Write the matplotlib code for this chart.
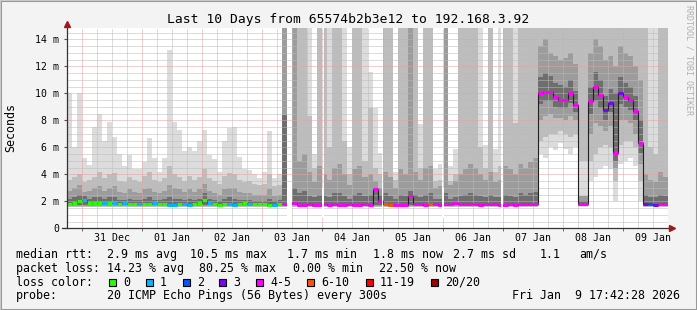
import matplotlib
matplotlib.use("Agg")
import matplotlib.pyplot as plt
from matplotlib.patches import Rectangle
import numpy as np

plt.rcParams['font.family'] = ['DejaVu Sans Mono']

W, H = 697, 310
nan = np.nan
U = 99.0  # lost pings / off scale: smoke runs to the top of the graph

# 2 hour bins, in hours from 31 Dec 00:00 (first bin starts 30 Dec 18:00)
t = np.arange(-6, 234, 2)

day_labels = ['31 Dec', '01 Jan', '02 Jan', '03 Jan', '04 Jan',
              '05 Jan', '06 Jan', '07 Jan', '08 Jan', '09 Jan']
y_labels = ['0', '2 m', '4 m', '6 m', '8 m', '10 m', '12 m', '14 m']

# median rtt (ms)
median = [1.8, 1.85, 2.0, 2.1, 1.9, 1.9, 1.9, 1.85, 1.9, 1.85, 1.8, 1.85, 1.8, 1.8, 1.8, 1.8, 1.8, 1.85, 1.8, 1.8,
          1.75, 1.75, 1.8, 1.8, 1.75, 1.8, 1.85, 2.1, 1.85, 1.8, 1.75, 1.8, 1.8, 1.75, 1.8, 1.85, 1.8, 1.8, 1.8, 1.8,
          1.75, 1.75, 1.8, 1.8, nan, 1.85, 1.75, 1.75, 1.8, 1.75, 1.75, 1.8, 1.75, 1.8, 1.75, 1.75, 1.8, 1.75, 1.75, 1.8,
          1.75, 2.9, 2.0, 1.8, 1.75, 1.75, 1.75, 1.75, 2.4, 1.8, 1.8, 1.75, 1.8, 1.8, 1.75, 1.8, 1.8, 1.85, 1.8, 1.8,
          1.8, 1.8, 1.75, 1.8, 1.8, 1.8, 1.75, 1.75, 1.8, 1.75, 1.8, 1.8, 1.8, 1.8, 10.0, 10.1, 10.1, 9.7, 9.5, 9.5,
          10.0, 9.1, 1.8, 1.8, 9.4, 10.5, 9.9, 8.8, 9.3, 5.6, 10.0, 9.7, 9.5, 8.7, 6.3, 1.8, 1.8, 1.75, 1.8, 1.8]

# loss colour class per bin (index into loss_colors)
loss = [0, 0, 0, 1, 0, 0, 0, 1, 0, 1, 0, 1, 0, 0, 1, 0, 0, 1, 0, 0,
        1, 1, 0, 1, 1, 0, 0, 0, 1, 0, 0, 0, 1, 1, 0, 0, 1, 0, 0, 0,
        0, 1, 0, 4, 4, 4, 4, 4, 4, 4, 4, 4, 4, 4, 4, 4, 4, 4, 4, 4,
        4, 4, 4, 5, 5, 4, 4, 4, 4, 4, 4, 4, 5, 4, 4, 4, 4, 4, 4, 4,
        4, 4, 4, 4, 4, 4, 4, 4, 4, 4, 4, 4, 4, 4, 4, 4, 4, 4, 4, 4,
        4, 4, 4, 4, 4, 4, 4, 3, 3, 4, 3, 4, 4, 4, 4, 3, 2, 3, 4, 4]

loss_names = ['0', '1', '2', '3', '4-5', '6-10', '11-19', '20/20']
loss_colors = ['#26ff00', '#00b8ff', '#0059ff', '#7e00ff', '#ff00ff', '#ff5500', '#ff0000', '#a00000']

# smoke bands, outermost (lightest) to innermost (darkest): top of each band
hi1 = [10, 6.0, 10, 5.2, 4.7, 7.5, 8.5, 6.5, 7.9, 6.8, 5.5, 4.6, 5.4, 4.4, 4.4, 4.9, 6.7, 5.2, 4.2, 5.2,
       13.2, 7.9, 7.3, 5.7, 6.0, 5.7, 6.5, 7.3, 5.4, 5.1, 4.2, 6.5, 7.4, 7.5, 5.3, 4.4, 4.3, 4.0, 3.7, 4.2,
       7.2, 3.7, 4.0, U, nan, U, U, U, U, 5.5, U, U, U, U, U, U, 6.0, U, U, U,
       11.6, 8.9, 5.6, U, U, 4.2, U, U, U, U, 7.7, U, U, 4.4, 4.8, U, 4.6, 5.9, U, U,
       U, U, U, 6.2, U, 5.9, U, U, U, U, U, U, U, U, U, U, U, U, U, U,
       U, U, U, U, U, U, U, U, U, U, U, U, U, U, U, U, U, U, U, U]
hi2 = [3.6, 3.8, 4.0, 3.4, 3.6, 3.8, 4.2, 3.7, 4.0, 4.1, 3.5, 3.4, 3.8, 3.6, 3.4, 3.9, 4.2, 3.6, 3.4, 3.7,
       4.6, 4.0, 3.8, 3.5, 3.9, 3.6, 3.8, 4.4, 3.7, 3.5, 3.3, 3.9, 4.1, 4.0, 3.6, 3.4, 3.5, 3.3, 3.2, 3.3,
       4.0, 3.1, 3.2, U, nan, U, U, U, 8.3, 4.5, U, U, 6.0, U, U, 6.5, 4.0, U, U, 5.0,
       8.9, 4.5, 4.0, U, U, 3.6, U, U, U, U, 4.5, U, U, 3.5, 3.6, U, 3.5, 4.0, U, U,
       U, U, 6.0, 4.5, U, 4.2, 4.6, U, U, 7.8, U, U, U, U, U, U, U, U, U, U,
       U, U, U, U, U, U, U, U, U, U, U, U, U, U, U, U, 6.0, 5.5, U, U]
hi3 = [2.8, 3.0, 3.2, 2.7, 2.8, 3.0, 3.1, 2.8, 3.0, 3.1, 2.7, 2.6, 2.9, 2.7, 2.6, 2.9, 3.0, 2.7, 2.6, 2.8,
       3.2, 3.0, 2.9, 2.7, 2.9, 2.7, 2.9, 3.3, 2.8, 2.6, 2.5, 2.9, 3.0, 3.0, 2.7, 2.6, 2.6, 2.5, 2.5, 2.5,
       2.9, 2.4, 2.5, U, nan, U, 5.0, 5.5, 4.2, 3.4, 4.6, 4.0, 3.6, 4.5, 4.8, 4.0, 3.2, 4.4, 4.6, 3.8,
       4.0, 3.5, 3.0, 4.2, 3.8, 3.0, 4.4, 4.0, U, 4.2, 3.6, 4.5, 4.6, 3.0, 3.1, U, 3.2, 3.5, 4.0, 4.4,
       4.8, 4.5, 4.0, 3.6, 4.2, 3.4, 3.6, 4.6, 4.4, 4.0, 4.8, 4.5, 4.9, 5.2, 13.5, 14.0, 13.0, 12.8, 12.5, 12.6,
       13.0, 12.2, 2.4, 2.4, 13.0, 14.0, 13.5, 12.5, 12.8, 12.0, 13.5, 13.0, 12.8, 12.0, 11.0, 4.0, 3.6, 3.4, 4.2, 3.8]
hi4 = [2.2, 2.3, 2.5, 2.4, 2.2, 2.3, 2.3, 2.2, 2.3, 2.3, 2.1, 2.1, 2.2, 2.1, 2.1, 2.2, 2.3, 2.1, 2.1, 2.2,
       2.3, 2.2, 2.2, 2.1, 2.2, 2.1, 2.2, 2.6, 2.2, 2.1, 2.0, 2.2, 2.3, 2.2, 2.1, 2.1, 2.1, 2.0, 2.0, 2.0,
       2.2, 2.0, 2.1, 8.4, nan, 3.0, 2.6, 2.8, 2.4, 2.3, 2.5, 2.4, 2.3, 2.6, 2.6, 2.4, 2.2, 2.5, 2.6, 2.4,
       2.5, 3.0, 2.5, 2.6, 2.4, 2.2, 2.5, 2.4, 2.8, 2.5, 2.3, 2.5, 2.6, 2.2, 2.2, 2.6, 2.2, 2.3, 2.4, 2.5,
       2.6, 2.5, 2.4, 2.3, 2.5, 2.3, 2.3, 2.5, 2.4, 2.3, 2.6, 2.5, 2.6, 2.7, 11.2, 11.5, 11.3, 10.8, 10.6, 10.5,
       11.0, 10.2, 2.0, 2.0, 10.5, 11.6, 11.0, 9.8, 10.3, 10.0, 11.2, 10.8, 10.5, 9.8, 8.0, 2.5, 2.3, 2.3, 2.5, 2.4]

# bottom of each band
lo1 = ([1.55] * 94 + [5.5, 5.2, 6.0, 5.8, 6.3, 5.9, 5.5, 6.0, 1.55, 1.55,
       3.5, 3.8, 4.4, 4.6, 4.4, 2.0, 4.8, 5.0, 5.2, 4.6, 2.0] + [1.55] * 5)
lo2 = ([1.6] * 94 + [6.5, 6.8, 7.0, 7.0, 7.2, 7.0, 6.8, 7.0, 5.0, 5.0,
       5.0, 5.5, 6.0, 6.2, 6.0, 3.5, 6.2, 6.5, 6.5, 6.0, 3.5] + [1.6] * 5)
lo3 = ([1.65] * 94 + [8.0, 8.3, 8.5, 8.2, 8.2, 8.0, 8.3, 8.0, 1.65, 1.65,
       7.0, 7.8, 7.6, 7.2, 7.6, 4.5, 8.0, 8.0, 7.8, 7.0, 4.8] + [1.65] * 5)
lo4 = ([1.7] * 94 + [9.2, 9.4, 9.4, 9.0, 8.9, 8.9, 9.3, 8.6, 1.7, 1.7,
       8.5, 9.4, 8.9, 8.0, 8.6, 5.0, 9.2, 9.0, 8.8, 8.0, 5.6] + [1.7] * 5)

# hours with no data at all
gaps = [(82.0, 84.0), (96.0, 96.6), (119.6, 120.2), (143.6, 144.4), (167.2, 168.0)]

YMAX = 14.84
shades = ['#dcdcdc', '#bdbdbd', '#9c9c9c', '#6e6e6e']

fig = plt.figure(figsize=(W / 100, H / 100), dpi=100, facecolor='#f3f3f3')
ax = fig.add_axes([67 / W, 1 - 228.3 / H, 601 / W, 200.3 / H])
ax.set_facecolor('white')

for z, (lo, hi, c) in enumerate(zip([lo1, lo2, lo3, lo4], [hi1, hi2, hi3, hi4], shades)):
    lo = np.array(lo, dtype=float)
    hi = np.minimum(np.array(hi, dtype=float), YMAX + 1)
    ax.bar(t, hi - lo, bottom=lo, width=2, align='edge', color=c,
           linewidth=0, antialiased=False, zorder=1 + z)

for a, b in gaps:
    ax.axvspan(a, b, color='white', lw=0, zorder=6)

# grid
for h in np.arange(-6, 234, 6):
    if h % 24:
        ax.axvline(h, color='#bbbbbb', lw=0.72, ls=(0, (1, 1)), zorder=7)
for v in np.arange(0.5, YMAX, 0.5):
    if v % 2:
        ax.axhline(v, color='#bbbbbb', lw=0.72, ls=(0, (1, 1)), zorder=7)
for h in range(0, 234, 24):
    ax.axvline(h, color='#e8a0a0', lw=0.72, ls=(0, (1, 1)), zorder=7)
for v in range(2, 15, 2):
    ax.axhline(v, color='#e8a0a0', lw=0.72, ls=(0, (1, 1)), zorder=7)

# median: thin dark line plus loss-coloured segments
med = np.array(median, dtype=float)
ax.plot(np.append(t, t[-1] + 2), np.append(med, med[-1]), drawstyle='steps-post',
        color='#202020', lw=0.8, zorder=8)
ax.hlines(med, t, t + 2, colors=[loss_colors[c] for c in loss], lw=2.2, zorder=9)
for a, b in gaps:
    ax.axvspan(a, b, ymin=0.05, ymax=0.2, color='white', lw=0, zorder=10)

ax.set_xlim(-6, 234)
ax.set_ylim(0, YMAX)
for s in ax.spines.values():
    s.set_visible(False)

ax.set_xticks(np.arange(12, 240, 24), day_labels)
ax.set_xticks(np.arange(0, 234, 24), minor=True)
ax.set_yticks(np.arange(0, 15, 2), y_labels)
ax.tick_params(axis='x', which='major', length=0, pad=3.7, labelsize=7.1)
ax.tick_params(axis='x', which='minor', length=2.2, color='#555555')
ax.tick_params(axis='y', length=2.2, pad=3.4, labelsize=7.1, color='#555555')

# axes with arrows
ax.plot([0, 0], [0, 1.02], transform=ax.transAxes, color='#333333', lw=0.9, clip_on=False, zorder=11)
ax.plot([-0.008, 1.0], [0, 0], transform=ax.transAxes, color='#333333', lw=0.9, clip_on=False, zorder=11)
ax.plot([0], [1.022], transform=ax.transAxes, marker='^', ms=4.5, color='#a01818', clip_on=False, zorder=12)
ax.plot([1.006], [0], transform=ax.transAxes, marker='>', ms=4.5, color='#a01818', clip_on=False, zorder=12)


def ftext(x, y, s, **kw):
    kw.setdefault('fontsize', 8.4)
    kw.setdefault('va', 'center')
    return fig.text(x / W, 1 - y / H, s, **kw)


ftext(347.8, 19.3, 'Last 10 Days from 65574b2b3e12 to 192.168.3.92', ha='center', fontsize=9.35)
ftext(11, 128, 'Seconds', rotation=90, ha='center')
ftext(688.7, 5, 'RRDTOOL / TOBI OETIKER', rotation=270, ha='center', va='top',
      fontsize=6, color='#b0b0b0')

row1 = [(16, 'median rtt:'), (107.3, '2.9 ms avg'), (190, '10.5 ms max'), (287.3, '1.7 ms min'),
        (372.7, '1.8 ms now'), (453.3, '2.7 ms sd'), (540, '1.1'), (579.3, 'am/s')]
row2 = [(16, 'packet loss:'), (107.3, '14.23 % avg'), (199.3, '80.25 % max'),
        (293, '0.00 % min'), (379.3, '22.50 % now')]
for x, s in row1:
    ftext(x, 254.3, s)
for x, s in row2:
    ftext(x, 268.3, s)

ftext(16, 282.3, 'loss color:')
box_x = [109, 145.7, 182.7, 219.3, 256, 307.3, 365.7, 431]
for bx, name, col in zip(box_x, loss_names, loss_colors):
    fig.patches.append(Rectangle((bx / W, 1 - 285.8 / H), 7 / W, 7 / H, transform=fig.transFigure,
                                 facecolor=col, edgecolor='black', lw=0.8))
    ftext(bx + 14.3, 282.3, name)

ftext(16, 295.7, 'probe:')
ftext(107.3, 295.7, '20 ICMP Echo Pings (56 Bytes) every 300s')
ftext(680, 295.7, 'Fri Jan  9 17:42:28 2026', ha='right')

# frame around the image
fig.patches.append(Rectangle((0, 0), 1, 1, transform=fig.transFigure, fill=False,
                             edgecolor='#999999', lw=2.2))
fig.lines.append(plt.Line2D([0, 0, 1], [0, 1, 1], transform=fig.transFigure, color='#cbcbcb', lw=1.4))

fig.savefig('out.png', dpi=100, facecolor=fig.get_facecolor())
